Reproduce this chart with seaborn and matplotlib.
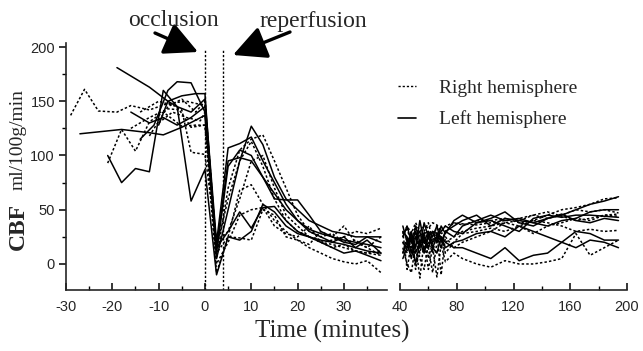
import numpy as np
import pandas as pd
import matplotlib
matplotlib.use("Agg")
import matplotlib.pyplot as plt
import seaborn as sns
from matplotlib.lines import Line2D
from matplotlib.ticker import MultipleLocator

# ---------------- data ----------------
POST_T = [2.5, 5, 7.5, 10, 12.5, 15, 17.5, 20, 22.5, 25, 27.5, 30, 32.5, 35, 38]
LATE_T = [42, 45, 48, 51, 54, 57, 60, 63, 66, 69, 72, 78, 84, 94, 104, 114,
          124, 134, 144, 154, 164, 174, 184, 194]

# Right hemisphere (dotted)
r1_pre_t = [-29, -26, -23, -19, -16, -12, -8, -4, 0]
r1_pre = [137, 161, 141, 140, 146, 142, 148, 150, 146]
r1_post = [5, 70, 105, 115, 119, 95, 70, 45, 30, 25, 28, 20, 22, 15, 8]
r1_late = [28, 32, 20, 35, 25, 30, 38, 22, 35, 28, 30, 38, 36, 40, 40, 42, 38, 40, 45, 50, 52, 55, 60, 61]

r2_pre_t = [-21, -18, -15, -12, -9, -5, -2, 0]
r2_pre = [93, 124, 104, 131, 140, 127, 128, 128]
r2_post = [-8, 25, 68, 73, 55, 40, 30, 22, 15, 10, 5, 2, 0, 3, -8]
r2_late = [15, 0, -8, 18, -13, 22, -5, 15, -12, 18, 2, 10, 5, 0, -3, 3, 0, 0, 2, 5, 28, 8, 15, 22]

r3_pre_t = [-16, -12, -8, -5, -3, 0]
r3_pre = [125, 135, 143, 142, 103, 101]
r3_post = [20, 30, 60, 95, 100, 70, 45, 35, 25, 20, 18, 15, 12, 10, 8]
r3_late = [20, 10, 25, -5, 15, 30, 5, 20, 28, -10, 25, 15, 20, 25, 30, 38, 35, 40, 38, 35, 30, 32, 30, 31]

r4_pre_t = [-14, -10, -6, -3, 0]
r4_pre = [140, 150, 145, 126, 128]
r4_post = [10, 25, 24, 22, 50, 45, 25, 22, 18, 30, 25, 35, 20, 15, 25]
r4_late = [10, 25, 15, 30, 5, -5, 20, 10, 30, 15, 20, 25, 30, 33, 35, 38, 40, 45, 42, 45, 50, 48, 50, 47]

r5_pre_t = [-12, -8, -5, -2, 0]
r5_pre = [118, 145, 152, 140, 150]
r5_post = [15, 60, 95, 113, 90, 60, 40, 30, 25, 20, 15, 18, 12, 10, 12]
r5_late = [30, -5, 20, 25, 10, 28, 15, -8, 20, 25, 10, 20, 28, 30, 33, 30, 35, 28, 35, 38, 42, 40, 45, 44]

r6_pre_t = [-10, -7, -4, -1, 0]
r6_pre = [130, 140, 135, 132, 140]
r6_post = [0, 20, 45, 50, 52, 35, 28, 25, 35, 20, 22, 25, 30, 28, 33]
r6_late = [25, 35, 28, 38, 30, 35, 33, 38, 36, 30, 35, 38, 37, 36, 38, 40, 42, 45, 48, 44, 40, 42, 45, 46]

# Left hemisphere (solid)
l1_pre_t = [-19, -12, -8, -5, -2, 0]
l1_pre = [181, 163, 150, 155, 157, 157]
l1_post = [5, 50, 95, 127, 110, 80, 60, 50, 40, 35, 30, 28, 25, 25, 25]
l1_late = [25, 35, 20, 30, 15, 38, 25, 30, 20, 35, 28, 40, 45, 38, 42, 48, 38, 35, 42, 45, 50, 55, 58, 62]

l2_pre_t = [-27, -18, -12, -9, -5, 0]
l2_pre = [120, 124, 121, 119, 126, 137]
l2_post = [10, 90, 105, 100, 80, 65, 50, 40, 32, 28, 25, 22, 20, 18, 15]
l2_late = [10, 20, 5, 25, 30, 12, 28, 20, 25, 15, 30, 25, 35, 40, 45, 40, 42, 38, 35, 40, 42, 48, 50, 50]

l3_pre_t = [-21, -18, -15, -12, -9, -6, -3, 0]
l3_pre = [100, 75, 88, 85, 160, 145, 140, 152]
l3_post = [20, 107, 111, 117, 95, 75, 55, 40, 30, 25, 20, 25, 15, 12, 10]
l3_late = [20, 15, 30, 10, 20, 25, 15, 30, 28, 25, 20, 15, 15, 10, 5, 15, 3, 8, 10, 20, 15, 22, 20, 15]

l4_pre_t = [-14, -11, -8, -6, -3, 0]
l4_pre = [115, 128, 160, 168, 167, 140]
l4_post = [15, 30, 48, 33, 52, 53, 40, 30, 25, 22, 20, 18, 15, 22, 10]
l4_late = [30, 25, 10, 35, 20, 28, 30, 15, 25, 30, 35, 30, 28, 38, 40, 35, 30, 42, 45, 43, 45, 45, 44, 43]

l5_pre_t = [-10, -8, -6, -3, 0]
l5_pre = [128, 150, 145, 58, 87]
l5_post = [-10, 25, 22, 30, 55, 48, 35, 28, 25, 20, 15, 10, 12, 8, 3]
l5_late = [5, 15, 25, 0, 20, 10, 25, 15, 10, 25, 15, 20, 22, 28, 30, 25, 35, 30, 25, 20, 30, 28, 22, 22]

l6_pre_t = [-16, -12, -9, -6, -3, 0]
l6_pre = [140, 130, 135, 128, 135, 145]
l6_post = [15, 95, 98, 95, 80, 60, 59, 59, 45, 30, 25, 20, 18, 25, 20]
l6_late = [35, 20, 28, 15, 40, 20, 30, 25, 35, 20, 30, 35, 40, 45, 35, 42, 40, 38, 42, 46, 40, 38, 42, 40]

SERIES = [
    ("R1", "Right hemisphere", r1_pre_t, r1_pre, r1_post, r1_late),
    ("R2", "Right hemisphere", r2_pre_t, r2_pre, r2_post, r2_late),
    ("R3", "Right hemisphere", r3_pre_t, r3_pre, r3_post, r3_late),
    ("R4", "Right hemisphere", r4_pre_t, r4_pre, r4_post, r4_late),
    ("R5", "Right hemisphere", r5_pre_t, r5_pre, r5_post, r5_late),
    ("R6", "Right hemisphere", r6_pre_t, r6_pre, r6_post, r6_late),
    ("L1", "Left hemisphere", l1_pre_t, l1_pre, l1_post, l1_late),
    ("L2", "Left hemisphere", l2_pre_t, l2_pre, l2_post, l2_late),
    ("L3", "Left hemisphere", l3_pre_t, l3_pre, l3_post, l3_late),
    ("L4", "Left hemisphere", l4_pre_t, l4_pre, l4_post, l4_late),
    ("L5", "Left hemisphere", l5_pre_t, l5_pre, l5_post, l5_late),
    ("L6", "Left hemisphere", l6_pre_t, l6_pre, l6_post, l6_late),
]

rows = []
for sid, hemi, pre_t, pre, post, late in SERIES:
    for t, v in zip(list(pre_t) + POST_T, list(pre) + post):
        rows.append((sid, hemi, "early", t, v))
    for t, v in zip(LATE_T, late):
        rows.append((sid, hemi, "late", t, v))
df = pd.DataFrame(rows, columns=["series", "hemisphere", "panel", "time", "cbf"])

# ---------------- styling ----------------
sns.set_theme(style="ticks")
plt.rcParams["font.family"] = ["Liberation Sans", "DejaVu Sans"]
plt.rcParams["axes.unicode_minus"] = False
SERIF = ["Liberation Serif", "DejaVu Serif"]
DASHES = {"Right hemisphere": (1.6, 1.4), "Left hemisphere": ""}

W, H = 643, 351
fig = plt.figure(figsize=(W / 100, H / 100), dpi=100)
ax1 = fig.add_axes([66 / W, 61 / H, 321 / W, 247 / H])
ax2 = fig.add_axes([400 / W, 61 / H, 227 / W, 247 / H])

for ax, panel in ((ax1, "early"), (ax2, "late")):
    sns.lineplot(data=df[df.panel == panel], x="time", y="cbf", units="series",
                 estimator=None, style="hemisphere", dashes=DASHES, color="black",
                 linewidth=1.1, sort=False, legend=False, ax=ax)
    ax.set_ylim(-24, 203.7)
    ax.set_xlabel("")
    ax.set_ylabel("")
    for s in ("top", "right"):
        ax.spines[s].set_visible(False)
    ax.spines["bottom"].set_linewidth(1.2)
    ax.spines["left"].set_linewidth(1.2)
    ax.tick_params(axis="x", which="major", direction="in", length=5, width=1.1,
                   labelsize=10.5, pad=7, color="black")
    ax.tick_params(axis="x", which="minor", direction="in", length=3, width=1.0, color="black")

ax1.set_xlim(-30, 39.3)
ax1.xaxis.set_major_locator(MultipleLocator(10))
ax1.xaxis.set_minor_locator(MultipleLocator(5))
ax1.yaxis.set_major_locator(MultipleLocator(50))
ax1.yaxis.set_minor_locator(MultipleLocator(25))
ax1.tick_params(axis="y", which="major", direction="out", length=5, width=1.1,
                labelsize=10.5, pad=3, color="black")
ax1.tick_params(axis="y", which="minor", direction="out", length=3, width=1.0, color="black")

ax2.set_xlim(40, 200)
ax2.xaxis.set_major_locator(MultipleLocator(40))
ax2.xaxis.set_minor_locator(MultipleLocator(20))
ax2.spines["left"].set_visible(False)
ax2.set_yticks([])

# occlusion / reperfusion markers
ax1.vlines([0, 3.8], -24, 198, colors="black", linestyles=(0, (1.6, 1.4)), linewidth=1.0)

fig.text(173 / W, 1 - 21 / H, "occlusion", ha="center", va="center", family=SERIF, fontsize=17)
fig.text(313 / W, 1 - 21 / H, "reperfusion", ha="center", va="center", family=SERIF, fontsize=17)
arrow = dict(arrowstyle="-|>,head_length=1.2,head_width=0.6", lw=2.4, color="black",
             shrinkA=0, shrinkB=0, mutation_scale=17)
fig.add_artist(matplotlib.patches.FancyArrowPatch((155, H - 33), (198, H - 52),
               transform=None, **arrow))
fig.add_artist(matplotlib.patches.FancyArrowPatch((290, H - 32), (233, H - 55),
               transform=None, **arrow))

# axis labels
fig.text(332 / W, 1 - 331 / H, "Time (minutes)", ha="center", va="center",
         family=SERIF, fontsize=18)
fig.text(18 / W, 1 - 226 / H, "CBF", ha="center", va="center", rotation=90,
         family=SERIF, fontsize=17, fontweight="bold")
fig.text(18 / W, 1 - 140 / H, "ml/100g/min", ha="center", va="center", rotation=90,
         family=SERIF, fontsize=14)

# legend
handles = [Line2D([], [], color="black", lw=1.0, dashes=(1.6, 1.4)),
           Line2D([], [], color="black", lw=1.2)]
fig.legend(handles, ["Right hemisphere", "Left hemisphere"], loc="upper left",
           bbox_to_anchor=(398 / W, 1 - 79 / H), frameon=False,
           prop={"family": SERIF, "size": 14}, handlelength=0.9, handletextpad=1.2,
           labelspacing=0.72, borderpad=0, borderaxespad=0)

fig.savefig("out.png", dpi=100)
